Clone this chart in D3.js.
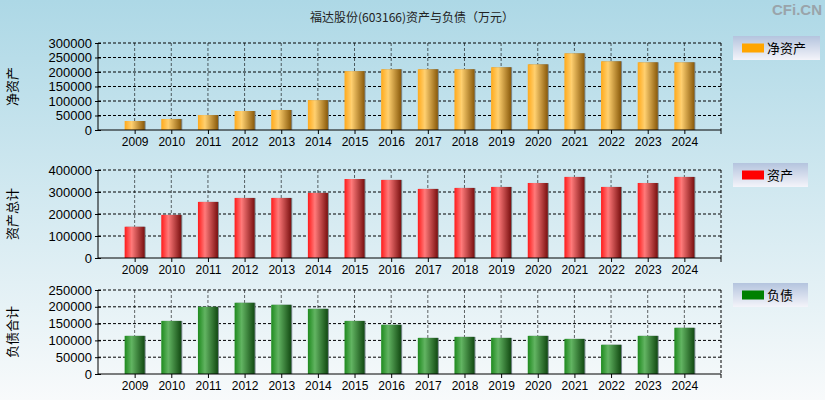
<!DOCTYPE html>
<html>
<head>
<meta charset="utf-8">
<script src="https://cdn.jsdelivr.net/npm/d3@7/dist/d3.min.js"></script>
<style>
    body { margin: 0; padding: 0; }
    svg { display: block; }
    .tick text { font-family: "Liberation Sans Narrow", "Arial Narrow", "Liberation Sans", sans-serif; }
</style>
</head>
<body>
<div id="chart"></div>
<script>
const years = ['2009', '2010', '2011', '2012', '2013', '2014', '2015', '2016',
    '2017', '2018', '2019', '2020', '2021', '2022', '2023', '2024'];
const netAssets = [31000, 38000, 51500, 65500, 69000, 103000, 203000, 209500,
    209500, 209500, 216500, 226500, 264500, 237000, 233500, 233500];
const totalAssets = [142000, 196000, 255000, 273000, 273000, 296000, 359000, 355000,
    314000, 318500, 323000, 341000, 368500, 323000, 341000, 368500];
const liabilities = [113500, 158000, 200000, 212000, 206000, 194000, 158000, 146500,
    107500, 110500, 107500, 113500, 104500, 87000, 113500, 137500];
const netTicks = [0, 50000, 100000, 150000, 200000, 250000, 300000];
const assetTicks = [0, 100000, 200000, 300000, 400000];
const debtTicks = [0, 50000, 100000, 150000, 200000, 250000];

const width = 825, height = 400;
const svg = d3.select('#chart').append('svg')
    .attr('width', width)
    .attr('height', height);

const defs = svg.append('defs');

const bg = defs.append('linearGradient').attr('id', 'bg')
    .attr('x1', 0).attr('y1', 0).attr('x2', 0).attr('y2', 1);
bg.append('stop').attr('offset', '0%').attr('stop-color', '#add8e6');
bg.append('stop').attr('offset', '100%').attr('stop-color', '#f8fafb');

const lg = defs.append('linearGradient').attr('id', 'legendBg')
    .attr('x1', 0).attr('y1', 0).attr('x2', 0).attr('y2', 1);
lg.append('stop').attr('offset', '0%').attr('stop-color', '#b4c4de');
lg.append('stop').attr('offset', '100%').attr('stop-color', '#f4f4fa');

function barGradient(id, c1, c2, c3) {
    const g = defs.append('linearGradient').attr('id', id)
        .attr('x1', 0).attr('y1', 0).attr('x2', 1).attr('y2', 0);
    g.append('stop').attr('offset', '0%').attr('stop-color', c1);
    g.append('stop').attr('offset', '35%').attr('stop-color', c2);
    g.append('stop').attr('offset', '100%').attr('stop-color', c3);
}
barGradient('gOrange', '#ffa91a', '#ffd070', '#8a5a0a');
barGradient('gRed', '#ff1a1a', '#ff7a7a', '#7a1010');
barGradient('gGreen', '#1e8a1e', '#62b462', '#124a12');

svg.append('rect').attr('width', width).attr('height', height).attr('fill', 'url(#bg)');

svg.append('text')
    .attr('x', 412).attr('y', 22)
    .attr('text-anchor', 'middle')
    .attr('font-family', '"Noto Sans CJK SC", sans-serif')
    .attr('font-size', '12px')
    .attr('fill', '#222')
    .text('福达股份(603166)资产与负债（万元）');

svg.append('text')
    .attr('x', 822).attr('y', 15)
    .attr('text-anchor', 'end')
    .attr('font-family', '"Liberation Sans", Arial, sans-serif')
    .attr('font-weight', 'bold')
    .attr('font-size', '15px')
    .attr('fill', '#9aa4aa')
    .text('CFi.CN');

const left = 98, right = 721;
const x = d3.scaleLinear().domain([0, years.length + 1]).range([left, right]);

function panel(opts) {
    const y = d3.scaleLinear().domain([0, opts.max]).range([opts.bottom, opts.top]);
    const g = svg.append('g');

    // horizontal grid
    g.selectAll('.hgrid')
        .data(opts.ticks.slice(1))
        .enter().append('line')
        .attr('x1', left).attr('x2', right)
        .attr('y1', d => y(d)).attr('y2', d => y(d))
        .attr('stroke', '#000')
        .attr('stroke-dasharray', '3,2');

    // vertical grid
    g.selectAll('.vgrid')
        .data(years)
        .enter().append('line')
        .attr('x1', (d, i) => x(i + 1)).attr('x2', (d, i) => x(i + 1))
        .attr('y1', opts.top).attr('y2', opts.bottom)
        .attr('stroke', '#000')
        .attr('stroke-width', 0.6)
        .attr('stroke-dasharray', '3,2');

    g.append('line')
        .attr('x1', right).attr('x2', right)
        .attr('y1', opts.top).attr('y2', opts.bottom)
        .attr('stroke', '#000')
        .attr('stroke-dasharray', '3,2');

    // bars
    g.selectAll('.bar-shadow')
        .data(opts.values)
        .enter().append('rect')
        .attr('x', (d, i) => x(i + 1) - 10 + 1)
        .attr('y', d => y(d))
        .attr('width', 20)
        .attr('height', d => opts.bottom - y(d))
        .attr('fill', '#7a8a90');

    g.selectAll('.bar')
        .data(opts.values)
        .enter().append('rect')
        .attr('x', (d, i) => x(i + 1) - 10)
        .attr('y', d => y(d))
        .attr('width', 20)
        .attr('height', d => opts.bottom - y(d))
        .attr('fill', opts.fill);

    // y axis
    const yAxis = g.append('g')
        .attr('transform', `translate(${left},0)`)
        .call(d3.axisLeft(y).tickValues(opts.ticks).tickSize(3).tickPadding(3).tickFormat(d => d));
    yAxis.select('.domain').attr('d', `M0,${opts.bottom}V${opts.top}`).attr('stroke', '#000');
    yAxis.selectAll('.tick line').attr('x1', -3).attr('x2', 3);
    yAxis.selectAll('.tick text').attr('font-size', '13px').attr('fill', '#000');

    // x axis
    const xAxis = g.append('g')
        .attr('transform', `translate(0,${opts.bottom})`)
        .call(d3.axisBottom(x).tickValues(d3.range(1, years.length + 1))
            .tickSize(4).tickPadding(3).tickFormat(d => years[d - 1]));
    xAxis.select('.domain').attr('d', `M${left},0H${right}`).attr('stroke', '#000');
    xAxis.selectAll('.tick text').attr('font-size', '12px').attr('fill', '#000');
    xAxis.append('line').attr('x1', right).attr('x2', right).attr('y1', 0).attr('y2', 4).attr('stroke', '#000');

    // y title
    svg.append('text')
        .attr('transform', `translate(17,${(opts.top + opts.bottom) / 2}) rotate(-90)`)
        .attr('text-anchor', 'middle')
        .attr('font-family', '"Noto Sans CJK SC", sans-serif')
        .attr('font-size', '13px')
        .attr('fill', '#000')
        .text(opts.title);

    // legend
    const lgd = svg.append('g').attr('transform', `translate(733,${opts.legendY})`);
    lgd.append('rect').attr('width', opts.legendW).attr('height', 24).attr('fill', 'url(#legendBg)');
    lgd.append('rect').attr('x', 9).attr('y', 7.5).attr('width', 22).attr('height', 9).attr('fill', opts.color);
    lgd.append('text')
        .attr('x', 34).attr('y', 17)
        .attr('font-family', '"Noto Sans CJK SC", sans-serif')
        .attr('font-size', '13px')
        .attr('fill', '#000')
        .text(opts.label);
}

panel({ values: netAssets, max: 300000, ticks: netTicks, top: 43, bottom: 130,
    fill: 'url(#gOrange)', color: '#ffa500', title: '净资产', label: '净资产', legendY: 36, legendW: 87 });
panel({ values: totalAssets, max: 400000, ticks: assetTicks, top: 170, bottom: 258,
    fill: 'url(#gRed)', color: '#ff0000', title: '资产总计', label: '资产', legendY: 163, legendW: 75 });
panel({ values: liabilities, max: 250000, ticks: debtTicks, top: 290, bottom: 374,
    fill: 'url(#gGreen)', color: '#008000', title: '负债合计', label: '负债', legendY: 283, legendW: 75 });
</script>
</body>
</html>
